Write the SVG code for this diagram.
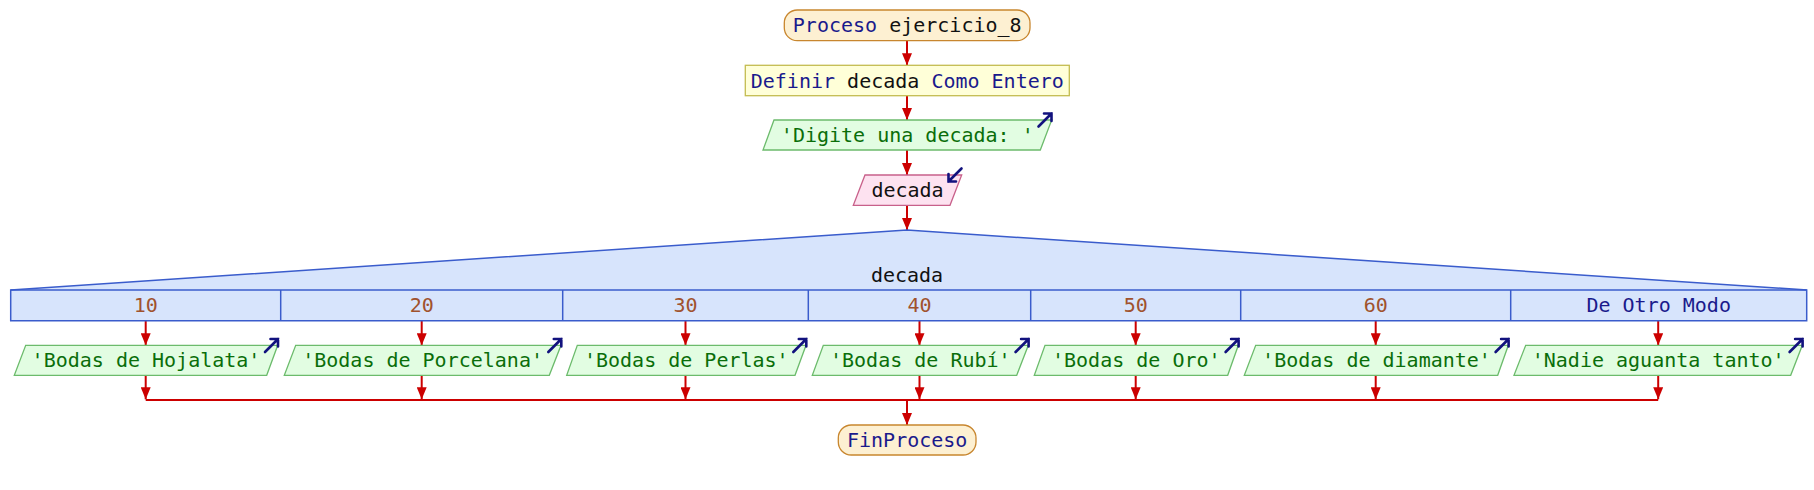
<svg xmlns="http://www.w3.org/2000/svg" width="1814" height="490" viewBox="0 0 1814 490">
<defs>
<style>
text{font-family:"DejaVu Sans Mono","Liberation Mono",monospace;font-size:20px;text-anchor:middle;fill:#111;}
.kw{fill:#1a1a8c;}
.str{fill:#0a6e0a;}
.num{fill:#a0522d;}
.term{fill:#fdf0d2;stroke:#c8862e;stroke-width:1.3;}
.def{fill:#ffffd8;stroke:#c4bc50;stroke-width:1.3;}
.out{fill:#e2fde2;stroke:#6cbb6c;stroke-width:1.3;}
.inp{fill:#fde2f0;stroke:#c8608a;stroke-width:1.3;}
.case{fill:#d7e4fc;stroke:#3a5ccc;stroke-width:1.5;}
.icon{fill:none;stroke:#12127e;stroke-width:2.6;stroke-linecap:round;stroke-linejoin:miter;}
.flow{fill:none;stroke:#cc0000;stroke-width:2;}
</style>
<marker id="ah" markerUnits="userSpaceOnUse" markerWidth="12" markerHeight="10" viewBox="0 0 12 10" refX="12" refY="5" orient="auto">
<path d="M0,0 L12,5 L0,10 Z" fill="#cc0000"/>
</marker>
</defs>
<rect width="1814" height="490" fill="#ffffff"/>

<g id="connectors">
<line class="flow" x1="907" y1="40.7" x2="907" y2="65.3" marker-end="url(#ah)"/>
<line class="flow" x1="907" y1="95.7" x2="907" y2="120" marker-end="url(#ah)"/>
<line class="flow" x1="907" y1="150" x2="907" y2="175" marker-end="url(#ah)"/>
<line class="flow" x1="907" y1="205.3" x2="907" y2="230" marker-end="url(#ah)"/>
<line class="flow" x1="145.7" y1="320.7" x2="145.7" y2="345.3" marker-end="url(#ah)"/>
<line class="flow" x1="421.7" y1="320.7" x2="421.7" y2="345.3" marker-end="url(#ah)"/>
<line class="flow" x1="685.5" y1="320.7" x2="685.5" y2="345.3" marker-end="url(#ah)"/>
<line class="flow" x1="919.5" y1="320.7" x2="919.5" y2="345.3" marker-end="url(#ah)"/>
<line class="flow" x1="1135.7" y1="320.7" x2="1135.7" y2="345.3" marker-end="url(#ah)"/>
<line class="flow" x1="1375.7" y1="320.7" x2="1375.7" y2="345.3" marker-end="url(#ah)"/>
<line class="flow" x1="1658.2" y1="320.7" x2="1658.2" y2="345.3" marker-end="url(#ah)"/>
<line class="flow" x1="145.7" y1="375.3" x2="145.7" y2="399.3" marker-end="url(#ah)"/>
<line class="flow" x1="421.7" y1="375.3" x2="421.7" y2="399.3" marker-end="url(#ah)"/>
<line class="flow" x1="685.5" y1="375.3" x2="685.5" y2="399.3" marker-end="url(#ah)"/>
<line class="flow" x1="919.5" y1="375.3" x2="919.5" y2="399.3" marker-end="url(#ah)"/>
<line class="flow" x1="1135.7" y1="375.3" x2="1135.7" y2="399.3" marker-end="url(#ah)"/>
<line class="flow" x1="1375.7" y1="375.3" x2="1375.7" y2="399.3" marker-end="url(#ah)"/>
<line class="flow" x1="1658.2" y1="375.3" x2="1658.2" y2="399.3" marker-end="url(#ah)"/>
<line class="flow" x1="145.7" y1="400" x2="1658.2" y2="400"/>
<line class="flow" x1="907" y1="400" x2="907" y2="425" marker-end="url(#ah)"/>
</g>

<g id="inicio">
<rect class="term" x="784.3" y="10" width="245.7" height="30.7" rx="13" ry="13"/>
<text x="907.2" y="32.3"><tspan class="kw">Proceso</tspan> ejercicio_8</text>
</g>

<g id="definir">
<rect class="def" x="745.3" y="65.3" width="324" height="30.4"/>
<text x="907.3" y="87.5"><tspan class="kw">Definir</tspan> decada <tspan class="kw">Como Entero</tspan></text>
</g>

<g id="escribir_digite">
<polygon class="out" points="774,120 1051.7,120 1040.3,150 763,150"/>
<text class="str" x="907.3" y="142">'Digite una decada: '</text>
<path class="icon" d="M1038.5,126.5 L1051.5,113.5 M1044,113.5 L1051.5,113.5 L1051.5,121"/>
</g>

<g id="leer_decada">
<polygon class="inp" points="865,175 961.7,175 950,205.3 853.3,205.3"/>
<text x="907.5" y="197">decada</text>
<path class="icon" d="M961.5,168.5 L948.5,181.5 M948.5,174 L948.5,181.5 L956,181.5"/>
</g>

<g id="segun">
<path class="case" d="M10.7,290 L907,230 L1806.7,290 L1806.7,320.7 L10.7,320.7 Z"/>
<line class="case" x1="10.7" y1="290" x2="1806.7" y2="290"/>
<line class="case" x1="280.7" y1="290" x2="280.7" y2="320.7"/>
<line class="case" x1="562.7" y1="290" x2="562.7" y2="320.7"/>
<line class="case" x1="808.3" y1="290" x2="808.3" y2="320.7"/>
<line class="case" x1="1030.7" y1="290" x2="1030.7" y2="320.7"/>
<line class="case" x1="1240.7" y1="290" x2="1240.7" y2="320.7"/>
<line class="case" x1="1510.7" y1="290" x2="1510.7" y2="320.7"/>
<text x="907" y="282.3">decada</text>
<text class="num" x="145.7" y="312.3">10</text>
<text class="num" x="421.7" y="312.3">20</text>
<text class="num" x="685.5" y="312.3">30</text>
<text class="num" x="919.5" y="312.3">40</text>
<text class="num" x="1135.7" y="312.3">50</text>
<text class="num" x="1375.7" y="312.3">60</text>
<text class="kw" x="1658.7" y="312.3">De Otro Modo</text>
</g>

<g id="out_10">
<polygon class="out" points="25.7,345.3 277.7,345.3 266.7,375.3 14.3,375.3"/>
<text class="str" x="146" y="367.3">'Bodas de Hojalata'</text>
<path class="icon" d="M265,352 L278,339 M270.5,339 L278,339 L278,346.5"/>
</g>
<g id="out_20">
<polygon class="out" points="295.7,345.3 561,345.3 549.3,375.3 284.3,375.3"/>
<text class="str" x="422.6" y="367.3">'Bodas de Porcelana'</text>
<path class="icon" d="M548.3,352 L561.3,339 M553.8,339 L561.3,339 L561.3,346.5"/>
</g>
<g id="out_30">
<polygon class="out" points="577.3,345.3 806,345.3 795,375.3 566.7,375.3"/>
<text class="str" x="686.3" y="367.3">'Bodas de Perlas'</text>
<path class="icon" d="M793.3,352 L806.3,339 M798.8,339 L806.3,339 L806.3,346.5"/>
</g>
<g id="out_40">
<polygon class="out" points="823.3,345.3 1028.3,345.3 1016.7,375.3 812.3,375.3"/>
<text class="str" x="920.3" y="367.3">'Bodas de Rubí'</text>
<path class="icon" d="M1015.6,352 L1028.6,339 M1021.1,339 L1028.6,339 L1028.6,346.5"/>
</g>
<g id="out_50">
<polygon class="out" points="1045,345.3 1238.3,345.3 1227.7,375.3 1034.3,375.3"/>
<text class="str" x="1136.3" y="367.3">'Bodas de Oro'</text>
<path class="icon" d="M1225.6,352 L1238.6,339 M1231.1,339 L1238.6,339 L1238.6,346.5"/>
</g>
<g id="out_60">
<polygon class="out" points="1255.7,345.3 1508.3,345.3 1497.7,375.3 1244.3,375.3"/>
<text class="str" x="1376.5" y="367.3">'Bodas de diamante'</text>
<path class="icon" d="M1495.6,352 L1508.6,339 M1501.1,339 L1508.6,339 L1508.6,346.5"/>
</g>
<g id="out_otro">
<polygon class="out" points="1525.7,345.3 1802.3,345.3 1790.7,375.3 1514,375.3"/>
<text class="str" x="1658.2" y="367.3">'Nadie aguanta tanto'</text>
<path class="icon" d="M1789.6,352 L1802.6,339 M1795.1,339 L1802.6,339 L1802.6,346.5"/>
</g>

<g id="fin">
<rect class="term" x="838.3" y="425" width="137.7" height="30" rx="13" ry="13"/>
<text class="kw" x="907.2" y="447">FinProceso</text>
</g>
</svg>
